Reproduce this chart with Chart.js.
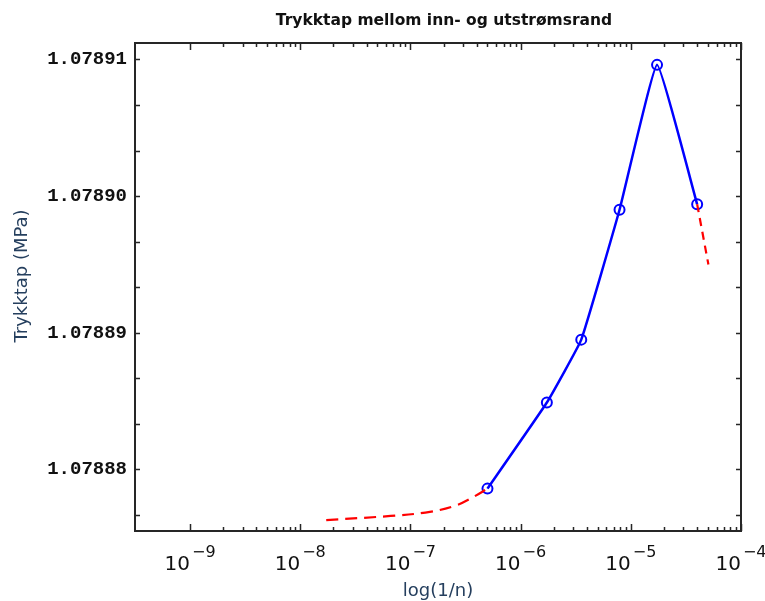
<!DOCTYPE html>
<html><head><meta charset="utf-8">
<script src="https://cdn.jsdelivr.net/npm/chart.js@4.4.1/dist/chart.umd.min.js"></script>
<style>html,body{margin:0;padding:0;background:#fff}#wrap{width:765px;height:601px}</style>
</head><body><div id="wrap"><canvas id="c" width="765" height="601"></canvas></div>
<script>
const titleText = 'Trykktap mellom inn- og utstrømsrand';
const xTitle = 'log(1/n)';
const yTitle = 'Trykktap (MPa)';
const xTickValues = [1e-9, 1e-8, 1e-7, 1e-6, 1e-5, 1e-4];
const xTickExponents = ['\u22129', '\u22128', '\u22127', '\u22126', '\u22125', '\u22124'];
const yTickValues = [1.07888, 1.07889, 1.07890, 1.07891];
const yTickLabels = ['1.07888', '1.07889', '1.07890', '1.07891'];
const yMinorStep = 1e-5 / 3;

const blueX = [5.0e-7, 1.73e-6, 3.55e-6, 7.9e-6, 1.73e-5, 4.0e-5];
const blueY = [1.0788786, 1.0788849, 1.0788895, 1.0788990, 1.0789096, 1.0788994];
const redLeftX = [1.72e-8, 6.6e-8, 1.5e-7, 2.65e-7, 3.75e-7, 5.0e-7];
const redLeftY = [1.0788763, 1.0788766, 1.0788769, 1.0788774, 1.0788780, 1.0788786];
const redRightX = [4.0e-5, 5.06e-5];
const redRightY = [1.0788994, 1.0788950];

const pts = (xs, ys) => xs.map((x, i) => ({x: x, y: ys[i]}));

const frameTicks = {
  id: 'frameTicks',
  afterDraw(chart) {
    const ctx = chart.ctx, a = chart.chartArea;
    const xs = chart.scales.x, ys = chart.scales.y;
    ctx.save();
    ctx.strokeStyle = '#262626';
    ctx.lineWidth = 2;
    ctx.strokeRect(a.left, a.top, a.right - a.left, a.bottom - a.top);
    ctx.lineWidth = 1.5;
    ctx.beginPath();
    const xt = (v, len) => {
      const p = Math.round(xs.getPixelForValue(v)) + 0.5;
      ctx.moveTo(p, a.bottom); ctx.lineTo(p, a.bottom - len);
      ctx.moveTo(p, a.top); ctx.lineTo(p, a.top + len);
    };
    for (let d = -9; d <= -4; d++) {
      xt(Math.pow(10, d), 7);
      if (d < -4) for (let m = 2; m <= 9; m++) xt(m * Math.pow(10, d), 4);
    }
    for (let k = -3; k <= 12; k++) {
      const v = 1.07888 + k * yMinorStep;
      if (v <= ys.min || v >= ys.max) continue;
      const p = Math.round(ys.getPixelForValue(v)) + 0.5;
      ctx.moveTo(a.left, p); ctx.lineTo(a.left + 5, p);
      ctx.moveTo(a.right, p); ctx.lineTo(a.right - 5, p);
    }
    ctx.stroke();

    // title
    ctx.fillStyle = '#111';
    ctx.font = 'bold 15.5px "DejaVu Sans"';
    ctx.textAlign = 'center';
    ctx.textBaseline = 'middle';
    ctx.fillText(titleText, 444, 21);

    // x tick labels with superscripts
    ctx.textBaseline = 'alphabetic';
    ctx.textAlign = 'left';
    xTickValues.forEach((v, i) => {
      const p = xs.getPixelForValue(v);
      ctx.font = '20px "DejaVu Sans"';
      const wb = ctx.measureText('10').width;
      ctx.font = '16px "DejaVu Sans"';
      const we = ctx.measureText(xTickExponents[i]).width;
      const s = p - (wb + we + 2) / 2;
      ctx.font = '20px "DejaVu Sans"';
      ctx.fillText('10', s, 570);
      ctx.font = '16px "DejaVu Sans"';
      ctx.fillText(xTickExponents[i], s + wb + 2, 557);
    });

    // axis titles
    ctx.fillStyle = '#253f5e';
    ctx.font = '18px "DejaVu Sans"';
    ctx.textAlign = 'center';
    ctx.textBaseline = 'middle';
    ctx.fillText(xTitle, (a.left + a.right) / 2, 591);
    ctx.translate(22, 276);
    ctx.rotate(-Math.PI / 2);
    ctx.fillText(yTitle, 0, 0);
    ctx.restore();
  }
};

new Chart(document.getElementById('c'), {
  type: 'line',
  data: {
    datasets: [
      {data: pts(redLeftX, redLeftY), borderColor: '#ff0000', borderWidth: 2.2, borderDash: [12, 7],
       pointRadius: 0, tension: 0.35, fill: false},
      {data: pts(redRightX, redRightY), borderColor: '#ff0000', borderWidth: 2.2, borderDash: [8, 6],
       pointRadius: 0, tension: 0, fill: false},
      {data: pts(blueX, blueY), borderColor: '#0000ff', borderWidth: 2.5, tension: 0.1,
       pointRadius: 5, pointBorderWidth: 2, pointBorderColor: '#0000ff',
       pointBackgroundColor: 'rgba(0,0,0,0)', fill: false}
    ]
  },
  options: {
    responsive: false,
    animation: false,
    devicePixelRatio: 1,
    layout: {padding: {left: 0, right: 24, top: 43, bottom: 0}},
    plugins: {
      legend: {display: false},
      tooltip: {enabled: false},
      title: {display: false}
    },
    scales: {
      x: {type: 'logarithmic', min: Math.pow(10, -9.5), max: 1e-4,
          ticks: {display: false}, grid: {display: false, drawTicks: false}, border: {display: false},
          afterFit: s => { s.height = 70; }},
      y: {type: 'linear', min: 1.0788755, max: 1.0789112,
          afterBuildTicks: s => { s.ticks = yTickValues.map(v => ({value: v})); },
          ticks: {callback: (v, i) => yTickLabels[i], color: '#111', padding: 8,
                  font: {family: '"Liberation Mono"', size: 19, weight: 'bold'}},
          grid: {display: false, drawTicks: false}, border: {display: false},
          afterFit: s => { s.width = 135; }}
    }
  },
  plugins: [frameTicks]
});
</script>
</body></html>
